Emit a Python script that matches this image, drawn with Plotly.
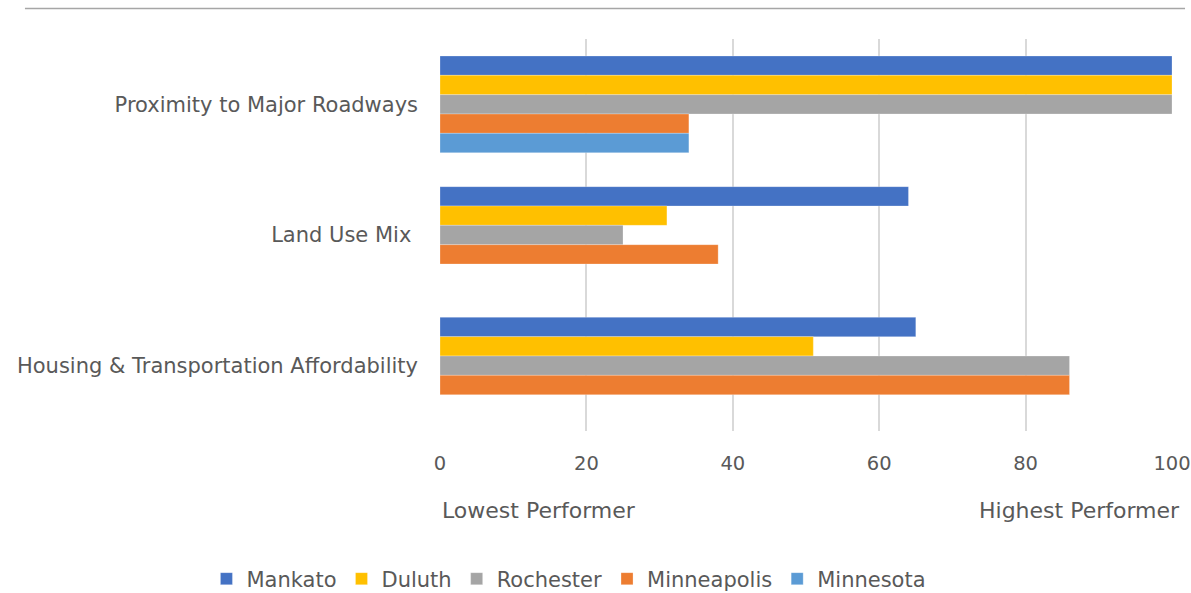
import plotly.graph_objects as go

categories = ['Proximity to Major Roadways', 'Land Use Mix ', 'Housing & Transportation Affordability']

mankato = [100, 64, 65]
duluth = [100, 31, 51]
rochester = [100, 25, 86]
minneapolis = [34, 38, 86]
minnesota = [34, None, None]

SERIES = [
    ('Mankato', mankato, '#4472C4'),
    ('Duluth', duluth, '#FFC000'),
    ('Rochester', rochester, '#A5A5A5'),
    ('Minneapolis', minneapolis, '#ED7D31'),
    ('Minnesota', minnesota, '#5B9BD5'),
]

FONT = 'DejaVu Sans, sans-serif'
GREY = '#595959'

fig = go.Figure()
for name, vals, color in SERIES:
    fig.add_trace(go.Bar(
        y=categories,
        x=vals,
        name=name,
        orientation='h',
        marker=dict(color=color, line=dict(color='rgba(255,255,255,0.5)', width=0.5)),
    ))

fig.update_xaxes(range=[0, 100], dtick=20, showgrid=True, gridcolor='#D9D9D9', gridwidth=1.5,
                 zeroline=False, showline=False, ticks='', ticklabelstandoff=18,
                 ticklabeloverflow='allow',
                 tickfont=dict(family=FONT, size=19.5, color=GREY))
fig.update_yaxes(autorange='reversed', showgrid=False, showline=False, ticks='',
                 ticklabelstandoff=21,
                 tickfont=dict(family=FONT, size=21, color=GREY))

# labels under the axis ends
fig.add_annotation(text='Lowest Performer', x=0, y=-0.204, xref='paper', yref='paper',
                   xanchor='left', yanchor='middle', showarrow=False,
                   font=dict(family=FONT, size=22, color=GREY))
fig.add_annotation(text='Highest Performer', x=1.0137, y=-0.204, xref='paper', yref='paper',
                   xanchor='right', yanchor='middle', showarrow=False,
                   font=dict(family=FONT, size=22, color=GREY))

# thin rule across the top
fig.add_shape(type='line', xref='paper', yref='paper', x0=-0.567, x1=1.0178, y0=1.0778, y1=1.0778,
              line=dict(color='#A6A6A6', width=1.5))

fig.update_layout(
    width=1191, height=593,
    barmode='group', bargap=0.26, bargroupgap=0,
    plot_bgcolor='white', paper_bgcolor='white',
    margin=dict(l=440, r=19, t=39, b=162, autoexpand=False),
    legend=dict(orientation='h', xref='container', yref='container',
                x=0.4777, xanchor='center', y=0.0236, yanchor='middle',
                font=dict(family=FONT, size=21, color=GREY), traceorder='normal',
                itemwidth=30),
    showlegend=True,
)

# page body has a default 8px margin; drop it so the figure fills the window
fig.write_html('out.html', config={'displayModeBar': False},
               post_script="document.body.style.margin='0';")
